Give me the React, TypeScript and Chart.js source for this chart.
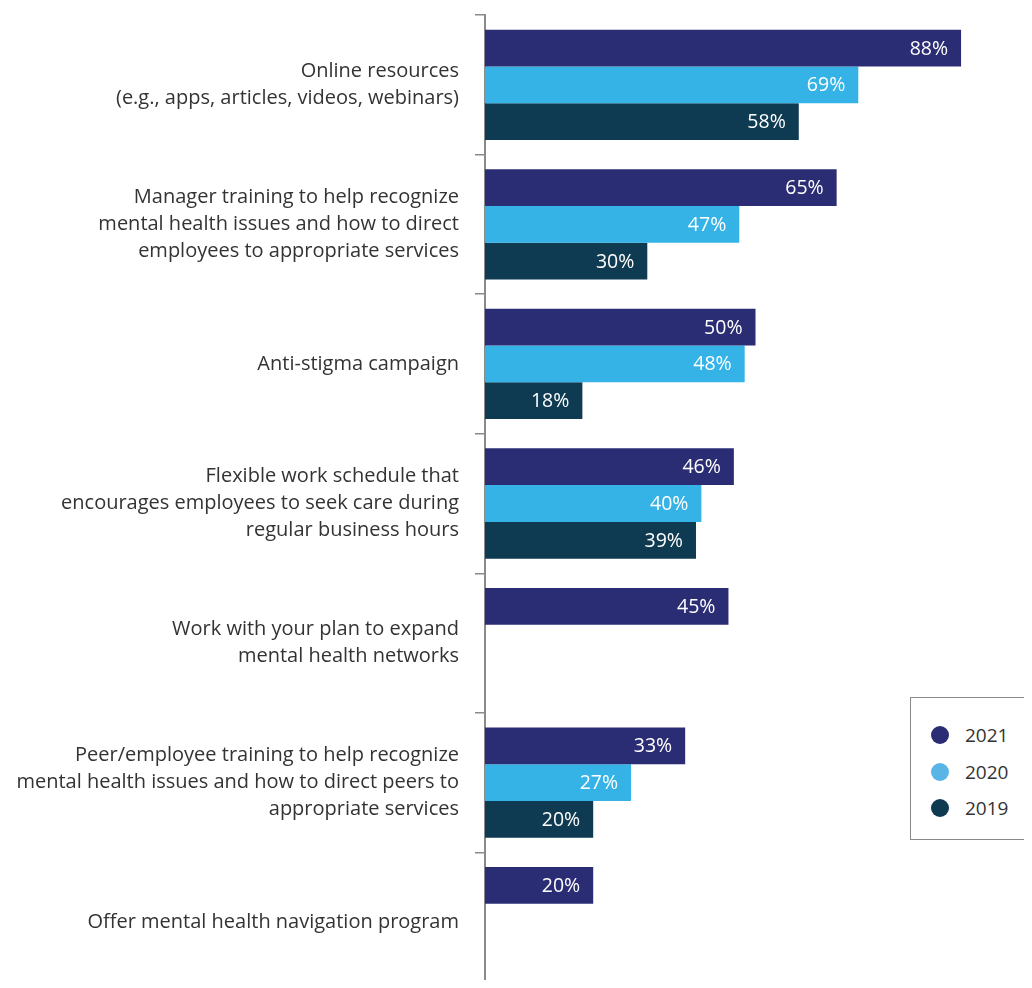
import React, { useEffect, useRef } from "react";
import { Chart, registerables } from "chart.js";

Chart.register(...registerables);

const categories: (string | string[])[] = [
  ["Online resources", "(e.g., apps, articles, videos, webinars)"],
  ["Manager training to help recognize", "mental health issues and how to direct", "employees to appropriate services"],
  "Anti-stigma campaign",
  ["Flexible work schedule that", "encourages employees to seek care during", "regular business hours"],
  ["Work with your plan to expand", "mental health networks"],
  ["Peer/employee training to help recognize", "mental health issues and how to direct peers to", "appropriate services"],
  "Offer mental health navigation program",
];

const values2021 = [88, 65, 50, 46, 45, 37, 20];
const values2020 = [69, 47, 48, 40, null, 27, null];
const values2019 = [58, 30, 18, 39, null, 20, null];

const labels2021 = ["88%", "65%", "50%", "46%", "45%", "33%", "20%"];
const labels2020 = ["69%", "47%", "48%", "40%", "", "27%", ""];
const labels2019 = ["58%", "30%", "18%", "39%", "", "20%", ""];

const seriesNames = ["2021", "2020", "2019"];
const barColors = ["#2B2D74", "#35B3E6", "#0E3A52"];
const legendColors = ["#2B2D74", "#5AB4E5", "#0E3A52"];

const FONT = "'Open Sans', 'Noto Sans', sans-serif";

const valueLabelPlugin = {
  id: "valueLabels",
  afterDatasetsDraw(chart: any) {
    const ctx = chart.ctx;
    const allLabels = [labels2021, labels2020, labels2019];
    ctx.save();
    ctx.font = `19.5px ${FONT}`;
    ctx.fillStyle = "#ffffff";
    ctx.textAlign = "right";
    ctx.textBaseline = "middle";
    chart.data.datasets.forEach((ds: any, di: number) => {
      const meta = chart.getDatasetMeta(di);
      meta.data.forEach((bar: any, i: number) => {
        const txt = allLabels[di][i];
        if (!txt || ds.data[i] == null) return;
        ctx.fillText(txt, bar.x - 13, bar.y + 1);
      });
    });
    ctx.restore();
  },
};

export default function App() {
  const canvasRef = useRef<HTMLCanvasElement | null>(null);

  useEffect(() => {
    if (!canvasRef.current) return;
    const chart = new Chart(canvasRef.current, {
      type: "bar",
      data: {
        labels: categories,
        datasets: [
          { label: seriesNames[0], data: values2021, backgroundColor: barColors[0] },
          { label: seriesNames[1], data: values2020, backgroundColor: barColors[1] },
          { label: seriesNames[2], data: values2019, backgroundColor: barColors[2] },
        ],
      },
      options: {
        indexAxis: "y",
        animation: false,
        responsive: false,
        maintainAspectRatio: false,
        layout: { padding: { top: 15, bottom: 0, right: 6, left: 0 } },
        datasets: {
          bar: { barPercentage: 1, categoryPercentage: 0.79 },
        },
        plugins: {
          legend: { display: false },
          tooltip: { enabled: false },
        },
        scales: {
          x: {
            min: 0,
            max: 100,
            display: false,
          },
          y: {
            afterFit: (scale: any) => {
              scale.width = 485;
              scale.paddingTop = 0;
              scale.paddingBottom = 0;
            },
            border: { display: true, color: "#8a8a8a", width: 2 },
            grid: {
              display: true,
              drawOnChartArea: false,
              drawTicks: true,
              tickLength: 10,
              color: "#8a8a8a",
              lineWidth: 1.5,
            },
            ticks: {
              color: "#333333",
              padding: 16,
              font: { family: FONT, size: 20, lineHeight: 1.35 },
            },
          },
        },
      },
      plugins: [valueLabelPlugin],
    });
    return () => chart.destroy();
  }, []);

  return (
    <div
      style={{
        position: "relative",
        margin: "-8px",
        width: 1032,
        height: 988,
        overflow: "hidden",
        background: "#ffffff",
      }}
    >
      <canvas ref={canvasRef} width={1032} height={992} style={{ display: "block" }} />
      <div
        style={{
          position: "absolute",
          left: 910,
          top: 697,
          width: 130,
          height: 143,
          border: "1.5px solid #8a8a8a",
          boxSizing: "border-box",
          background: "#ffffff",
        }}
      >
        {seriesNames.map((name, i) => (
          <div
            key={name}
            style={{
              position: "absolute",
              left: 20,
              top: 26 + i * 36.5,
              height: 22,
              display: "flex",
              alignItems: "center",
              fontFamily: FONT,
              fontSize: 19,
              color: "#333333",
            }}
          >
            <span
              style={{
                display: "inline-block",
                width: 18,
                height: 18,
                borderRadius: "50%",
                background: legendColors[i],
                marginRight: 16,
              }}
            />
            {name}
          </div>
        ))}
      </div>
    </div>
  );
}
